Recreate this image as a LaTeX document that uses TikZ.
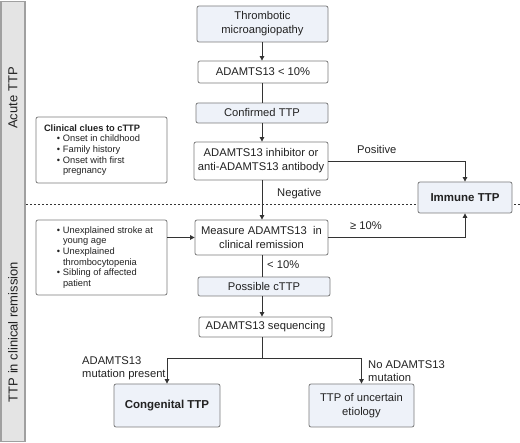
\documentclass[tikz,border=0pt]{standalone}
\usepackage{fontspec}
\setmainfont{Liberation Sans}
\usetikzlibrary{arrows.meta}
\definecolor{boxline}{HTML}{7A7A7A}
\definecolor{lightfill}{HTML}{EEF2F9}
\definecolor{barfill}{HTML}{E4E4E4}
\definecolor{barline}{HTML}{A0A0A0}
\definecolor{ink}{HTML}{222222}
\definecolor{conn}{HTML}{333333}
\newcommand{\bli}[1]{\par\hangindent=19pt\hangafter=1\noindent\hspace*{13pt}\makebox[6pt][l]{\textbullet}#1}
\tikzset{
  base/.style={draw=boxline, line width=0.8pt, rounded corners=2pt, inner sep=0pt,
    text=ink, align=center, font=\fontsize{11.2}{13.8}\selectfont},
  whitebox/.style={base, fill=white},
  bluebox/.style={base, fill=lightfill},
  sidebox/.style={draw=boxline, line width=0.8pt, rounded corners=2pt, fill=white,
    text=ink, inner sep=0pt, font=\fontsize{9.3}{10.7}\selectfont},
  conline/.style={draw=conn, line width=0.9pt},
  arr/.style={conline, -{Triangle[length=4.5pt,width=4.5pt]}},
  lbl/.style={text=ink, inner sep=0pt, font=\fontsize{11.2}{13}\selectfont, align=left},
  bartext/.style={text=ink, rotate=90, inner sep=0pt, font=\fontsize{13}{15}\selectfont},
}
\begin{document}
\begin{tikzpicture}[x=1pt, y=-1pt]
\useasboundingbox (0,0) rectangle (520,443);
% side bar
\node[draw=barline, fill=barfill, line width=1.2pt, minimum width=24pt, minimum height=440pt, inner sep=0pt] (bar) at (13,221.5) {};
\node[bartext] (acute) at (13,98) {Acute TTP};
\node[bartext] (remiss) at (13,332) {TTP in clinical remission};
% dashed separator
\coordinate (dl) at (26,204);
\coordinate (dr) at (520,204);
\draw[draw=conn, line width=0.9pt, dash pattern=on 2pt off 2pt] (dl) -- (dr);
% main column
\node[bluebox, minimum width=131pt, minimum height=36pt] (tma) at (262.5,24) {Thrombotic\\microangiopathy};
\node[whitebox, minimum width=130pt, minimum height=22pt] (lt) at (263,72) {ADAMTS13 < 10\%};
\node[bluebox, minimum width=132pt, minimum height=20pt] (conf) at (262,113) {Confirmed TTP};
\node[whitebox, minimum width=134pt, minimum height=38pt] (inhib) at (261,161) {ADAMTS13 inhibitor or\\anti-ADAMTS13 antibody};
\node[bluebox, minimum width=94pt, minimum height=31pt, font=\fontsize{11.5}{13}\selectfont\bfseries] (immune) at (465,197.5) {Immune TTP};
\node[whitebox, minimum width=133pt, minimum height=35pt] (meas) at (261.5,237.5) {Measure ADAMTS13~ in\\clinical remission};
\node[bluebox, minimum width=132pt, minimum height=19pt] (poss) at (264,286.5) {Possible cTTP};
\node[whitebox, minimum width=133pt, minimum height=20pt] (seq) at (265.5,327) {ADAMTS13 sequencing};
\node[bluebox, minimum width=106pt, minimum height=43pt, font=\fontsize{11.5}{13}\selectfont\bfseries] (cong) at (167,405.5) {Congenital TTP};
\node[bluebox, minimum width=105pt, minimum height=43pt] (unc) at (361.5,405.5) {TTP of uncertain\\etiology};
% side boxes
\node[sidebox, minimum width=131pt, minimum height=66pt] (clues) at (101.5,150) {\parbox{115pt}{\raggedright
  \noindent\textbf{Clinical clues to cTTP}
  \bli{Onset in childhood}
  \bli{Family history}
  \bli{Onset with first\newline pregnancy}}};
\node[sidebox, minimum width=131pt, minimum height=75pt] (unexp) at (101.5,257.5) {\parbox{115pt}{\raggedright
  \bli{Unexplained stroke at\newline young age}
  \bli{Unexplained\newline thrombocytopenia}
  \bli{Sibling of affected\newline patient}}};
% connectors
\draw[arr] (tma.south -| 262,0) -- (lt.north -| 262,0);
\draw[conline] (lt.south -| 262,0) -- (conf.north -| 262,0);
\draw[arr] (conf.south -| 262,0) -- (inhib.north -| 262,0);
\draw[arr] (inhib.south -| 262,0) -- (meas.north -| 262,0);
\draw[arr] (inhib.east) -| (immune.north);
\draw[arr] (meas.east) -| (immune.south);
\draw[arr] (unexp.east |- meas.west) -- (meas.west);
\draw[conline] (meas.south -| 262,0) -- (poss.north -| 262,0);
\draw[arr] (poss.south -| 262,0) -- (seq.north -| 262,0);
\coordinate (split) at (262,358);
\draw[conline] (seq.south -| 262,0) -- (split);
\draw[arr] (split) -| (cong.north);
\draw[arr] (split) -| (unc.north);
% labels
\node[lbl, anchor=west] (lpos) at (357,150) {Positive};
\node[lbl, anchor=west] (lneg) at (277,194) {Negative};
\node[lbl, anchor=west] (lge) at (350,226) {≥ 10\%};
\node[lbl, anchor=west] (llt) at (267,265) {< 10\%};
\node[lbl, anchor=west] (lmut) at (82,368) {ADAMTS13\\mutation present};
\node[lbl, anchor=west] (lnomut) at (368,371) {No ADAMTS13\\mutation};
\end{tikzpicture}
\end{document}
